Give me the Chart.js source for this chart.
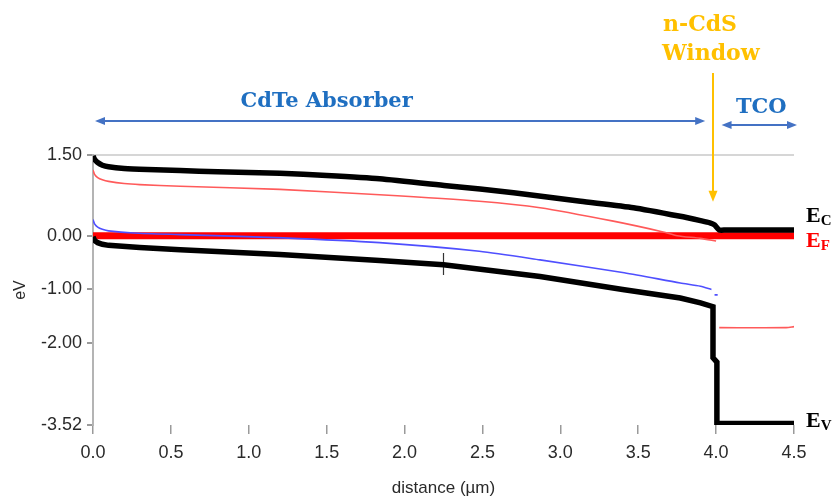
<!DOCTYPE html>
<html>
<head>
<meta charset="utf-8">
<script src="https://cdn.jsdelivr.net/npm/chart.js@4.4.1/dist/chart.umd.min.js"></script>
<style>
  html, body { margin: 0; padding: 0; background: #ffffff; }
  #wrap { width: 833px; height: 500px; position: relative; }
  canvas { display: block; }
</style>
</head>
<body>
<div id="wrap"><canvas id="band" width="833" height="500"></canvas></div>
<script>
// Band diagram of a CdTe / CdS / TCO stack (energy in eV vs depth in µm)

// Conduction band edge
const ecDist   = [0, 0.01, 0.03, 0.06, 0.1, 0.2, 0.35, 0.56, 0.8, 1.2, 1.5, 1.84, 2.27, 2.7, 3.13, 3.47, 3.77, 3.9, 3.96, 3.99, 4.02, 4.06, 4.5];
const ecEnergy = [1.48, 1.42, 1.36, 1.31, 1.28, 1.25, 1.23, 1.21, 1.19, 1.16, 1.12, 1.06, 0.93, 0.8, 0.64, 0.52, 0.36, 0.28, 0.24, 0.2, 0.105, 0.105, 0.105];

// Fermi level
const efDist   = [0, 4.5];
const efEnergy = [0, 0];

// Electron quasi-Fermi level (null breaks the line at the junction)
const efnDist   = [0, 0.01, 0.03, 0.06, 0.1, 0.2, 0.3, 0.56, 1.2, 1.84, 2.48, 2.87, 3.34, 3.66, 3.75, 3.9, 4.0, 4.01, 4.02, 4.45, 4.5];
const efnEnergy = [1.22, 1.14, 1.08, 1.04, 1.01, 0.97, 0.95, 0.92, 0.86, 0.76, 0.64, 0.52, 0.27, 0.07, 0.0, -0.05, -0.1, null, -1.71, -1.71, -1.69];

// Hole quasi-Fermi level
const efpDist   = [0, 0.01, 0.03, 0.06, 0.1, 0.26, 0.56, 1.22, 1.84, 2.48, 2.87, 3.41, 3.77, 3.9, 3.97, 3.98, 3.99, 4.01];
const efpEnergy = [0.3, 0.22, 0.16, 0.12, 0.09, 0.05, 0.02, -0.04, -0.13, -0.29, -0.45, -0.69, -0.88, -0.94, -1.0, null, -1.1, -1.1];

// Valence band edge
const evDist   = [0, 0.01, 0.03, 0.06, 0.1, 0.3, 0.56, 1.2, 1.84, 2.25, 2.87, 3.4, 3.77, 3.9, 3.98, 3.98, 4.005, 4.005, 4.5];
const evEnergy = [-0.02, -0.09, -0.13, -0.16, -0.18, -0.22, -0.26, -0.35, -0.46, -0.54, -0.76, -1.0, -1.16, -1.25, -1.32, -2.27, -2.35, -3.49, -3.49];

// Cursor mark on the valence band
const cursorDist   = [2.25, 2.25];
const cursorEnergy = [-0.32, -0.73];

// Axis ticks
const yTickValues = [1.5, 0, -1, -2, -3.52];
const xTickStep = 0.5;

const pts = (xs, ys) => xs.map((v, i) => ({ x: v, y: ys[i] }));

const sansFamily = "'Liberation Sans', Arial, sans-serif";
const tickFont = { family: sansFamily, size: 18 };
const titleFont = { family: sansFamily, size: 17 };

function arrowHead(ctx, x, y, angle, len, half, color) {
  ctx.save();
  ctx.translate(x, y);
  ctx.rotate(angle);
  ctx.fillStyle = color;
  ctx.beginPath();
  ctx.moveTo(0, 0);
  ctx.lineTo(-len, -half);
  ctx.lineTo(-len, half);
  ctx.closePath();
  ctx.fill();
  ctx.restore();
}

function doubleArrow(ctx, x1, x2, y, color) {
  ctx.strokeStyle = color;
  ctx.lineWidth = 2;
  ctx.beginPath();
  ctx.moveTo(x1 + 6, y);
  ctx.lineTo(x2 - 6, y);
  ctx.stroke();
  arrowHead(ctx, x1, y, Math.PI, 10, 4, color);
  arrowHead(ctx, x2, y, 0, 10, 4, color);
}

const layerLabels = {
  id: 'layerLabels',
  afterDraw(chart) {
    const { ctx, scales } = chart;
    const xs = scales.x, ys = scales.y;
    ctx.save();

    // Layer spans
    doubleArrow(ctx, xs.getPixelForValue(0) + 2, xs.getPixelForValue(3.93), 121, '#4472C4');
    doubleArrow(ctx, xs.getPixelForValue(4.035), xs.getPixelForValue(4.5) + 3, 125, '#4472C4');

    ctx.font = "bold 21px 'DejaVu Serif', serif";
    ctx.fillStyle = '#1F6FC1';
    ctx.textAlign = 'center';
    ctx.textBaseline = 'alphabetic';
    ctx.fillText('CdTe Absorber', xs.getPixelForValue(1.5), 107);
    ctx.fillText('TCO', xs.getPixelForValue(4.29), 113);

    // Window layer label and pointer
    ctx.fillStyle = '#FFC000';
    ctx.textAlign = 'left';
    ctx.font = "bold 22px 'DejaVu Serif', serif";
    ctx.fillText('n-CdS', 663, 31);
    ctx.fillText('Window', 662, 60);
    const ax = xs.getPixelForValue(3.98);
    const tipY = ys.getPixelForValue(0.63);
    ctx.strokeStyle = '#FFC000';
    ctx.lineWidth = 2;
    ctx.beginPath();
    ctx.moveTo(ax, 73);
    ctx.lineTo(ax, tipY - 8);
    ctx.stroke();
    arrowHead(ctx, ax, tipY, Math.PI / 2, 11, 4.5, '#FFC000');

    // Level names on the right
    const lx = xs.right + 12;
    const drawLevel = (sub, value, dy, color) => {
      const base = ys.getPixelForValue(value) + dy;
      ctx.fillStyle = color;
      ctx.textAlign = 'left';
      ctx.font = "bold 22px 'Liberation Serif', serif";
      ctx.fillText('E', lx, base);
      const w = ctx.measureText('E').width;
      ctx.font = "bold 15px 'Liberation Serif', serif";
      ctx.fillText(sub, lx + w, base + 3);
    };
    drawLevel('C', 0.105, -8, '#000000');
    drawLevel('F', 0, 11, '#FF0000');
    drawLevel('V', -3.49, 3.5, '#000000');

    ctx.restore();
  }
};

new Chart(document.getElementById('band'), {
  type: 'line',
  data: {
    datasets: [
      { label: 'Ec', data: pts(ecDist, ecEnergy), borderColor: '#000000', borderWidth: 5.5, tension: 0.2, order: 0 },
      { label: 'Ev', data: pts(evDist, evEnergy), borderColor: '#000000', borderWidth: 5.5, tension: 0, order: 0 },
      { label: 'cursor', data: pts(cursorDist, cursorEnergy), borderColor: '#333333', borderWidth: 1.2, order: 0 },
      { label: 'Efp', data: pts(efpDist, efpEnergy), borderColor: '#4F4FFF', borderWidth: 1.6, tension: 0.25, order: 1 },
      { label: 'Efn', data: pts(efnDist, efnEnergy), borderColor: '#FF5A5A', borderWidth: 1.6, tension: 0.25, order: 2 },
      { label: 'Ef', data: pts(efDist, efEnergy), borderColor: '#FF0000', borderWidth: 7, order: 3 }
    ]
  },
  options: {
    responsive: false,
    animation: false,
    devicePixelRatio: 1,
    spanGaps: false,
    elements: {
      point: { radius: 0, hoverRadius: 0 },
      line: { tension: 0, fill: false, borderCapStyle: 'butt' }
    },
    layout: { padding: { top: 155, right: 39, left: 0, bottom: 0 } },
    plugins: {
      legend: { display: false },
      tooltip: { enabled: false }
    },
    scales: {
      x: {
        type: 'linear',
        min: 0,
        max: 4.5,
        border: { display: false },
        grid: { drawOnChartArea: false, drawTicks: true, tickLength: 9, tickColor: '#9a9a9a', lineWidth: 1.5 },
        ticks: {
          stepSize: xTickStep,
          color: '#2a2a2a',
          font: tickFont,
          padding: 8,
          maxRotation: 0,
          callback: v => Number(v).toFixed(1)
        },
        title: { display: true, text: 'distance (µm)', color: '#2a2a2a', font: titleFont, padding: { top: 0, bottom: 1 } },
        afterFit(scale) { scale.height = 75; }
      },
      y: {
        type: 'linear',
        min: -3.52,
        max: 1.5,
        border: { display: true, color: '#b4b4b4', width: 2 },
        grid: {
          drawTicks: true,
          tickLength: 6,
          tickColor: '#9a9a9a',
          lineWidth: 2,
          color: ctx => (ctx.tick && ctx.tick.value === 1.5 ? '#d6d6d6' : 'rgba(0,0,0,0)')
        },
        afterBuildTicks(scale) { scale.ticks = yTickValues.map(v => ({ value: v })); },
        ticks: {
          color: '#2a2a2a',
          font: tickFont,
          padding: 5,
          callback: v => Number(v).toFixed(2)
        },
        title: { display: true, text: 'eV', color: '#2a2a2a', font: { family: sansFamily, size: 16 }, padding: { top: 11, bottom: 0 } },
        afterFit(scale) { scale.width = 93; }
      }
    }
  },
  plugins: [layerLabels]
});
</script>
</body>
</html>
